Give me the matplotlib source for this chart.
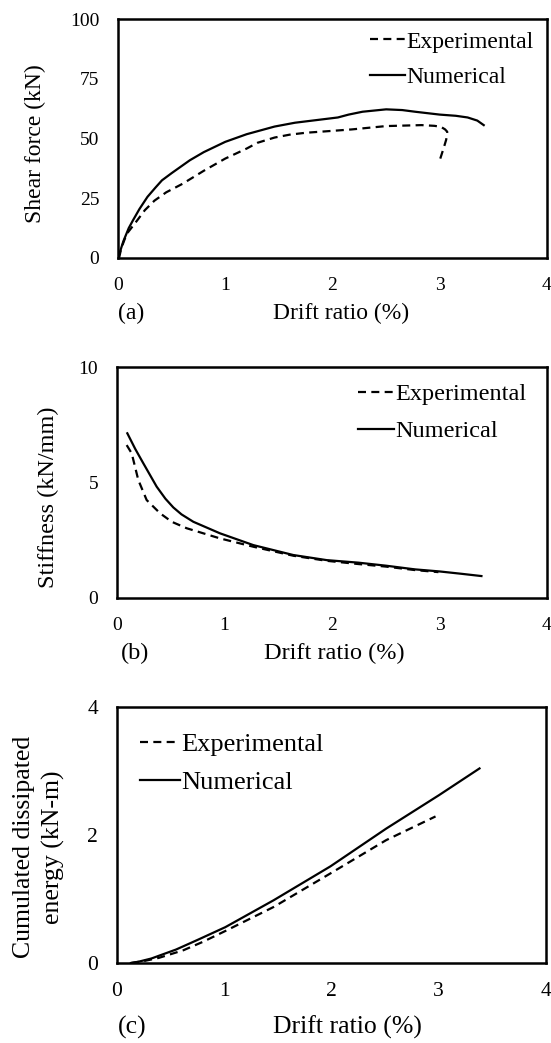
import matplotlib
matplotlib.use("Agg")
import matplotlib.pyplot as plt

plt.rcParams['font.family'] = ['Liberation Serif', 'DejaVu Serif']

# (a) Shear force vs drift ratio
a_num_x = [0.0, 0.05, 0.1, 0.14, 0.2, 0.275, 0.35, 0.41, 0.5, 0.67, 0.8, 1.0, 1.2, 1.46,
           1.65, 1.85, 2.05, 2.15, 2.28, 2.5, 2.65, 2.77, 3.0, 3.15, 3.26, 3.35, 3.41]
a_num_y = [0.0, 7.0, 12.5, 15.8, 20.5, 25.6, 29.5, 32.5, 35.5, 40.9, 44.3, 48.6, 51.8, 55.0,
           56.6, 57.7, 58.8, 60.0, 61.2, 62.2, 61.9, 61.2, 60.0, 59.5, 58.8, 57.5, 55.6]
a_exp_x = [0.01, 0.03, 0.08, 0.18, 0.25, 0.34, 0.45, 0.6, 0.8, 1.0, 1.2, 1.3, 1.46, 1.6, 1.75,
           2.0, 2.18, 2.5, 2.83, 2.95, 3.01, 3.05, 3.07, 3.06, 3.04, 3.0]
a_exp_y = [0.0, 4.0, 10.0, 15.8, 20.0, 24.0, 27.5, 31.0, 36.5, 41.6, 45.8, 48.2, 50.4, 51.6, 52.4,
           53.2, 53.8, 55.2, 55.6, 55.3, 54.9, 53.8, 52.8, 49.5, 46.5, 40.9]

# (b) Stiffness vs drift ratio
b_num_x = [0.096, 0.17, 0.245, 0.369, 0.45, 0.524, 0.6, 0.71, 0.958, 1.268, 1.64, 1.95, 2.245,
           2.5, 2.77, 3.0, 3.2, 3.39]
b_num_y = [7.13, 6.45, 5.83, 4.82, 4.30, 3.92, 3.62, 3.30, 2.80, 2.29, 1.86, 1.64, 1.53,
           1.40, 1.24, 1.15, 1.05, 0.95]
b_exp_x = [0.09, 0.137, 0.198, 0.276, 0.40, 0.509, 0.648, 0.958, 1.268, 1.64, 1.95, 2.245,
           2.5, 2.77, 2.99]
b_exp_y = [6.62, 6.26, 5.11, 4.24, 3.67, 3.30, 3.02, 2.58, 2.22, 1.83, 1.61, 1.47,
           1.36, 1.21, 1.12]

# (c) Cumulated dissipated energy vs drift ratio
c_num_x = [0.13, 0.2, 0.32, 0.55, 0.75, 1.01, 1.46, 1.99, 2.51, 3.0, 3.38]
c_num_y = [0.0, 0.02, 0.07, 0.21, 0.36, 0.56, 0.98, 1.51, 2.10, 2.62, 3.04]
c_exp_x = [0.13, 0.25, 0.39, 0.62, 0.8, 1.01, 1.46, 1.99, 2.51, 2.97]
c_exp_y = [0.0, 0.03, 0.08, 0.20, 0.33, 0.50, 0.875, 1.40, 1.92, 2.29]

x_ticks = [0, 1, 2, 3, 4]
a_yticks = [0, 25, 50, 75, 100]
b_yticks = [0, 5, 10]
c_yticks = [0, 2, 4]

W, H = 551, 1043
fig = plt.figure(figsize=(W / 100, H / 100), dpi=100)


def fx(px):
    return px / W


def fy(py):
    return 1 - py / H


panels = [
    dict(box=(118, 547, 19, 258), ex=a_exp_x, ey=a_exp_y, nx=a_num_x, ny=a_num_y,
         yt=a_yticks, ylab='Shear force (kN)', tag='(a)', tfs=14, lfs=17, legfs=17,
         leg=(370, 31), ls=0.6, ylc=(35, 144), xlc=(341, 313), tagpos=(118, 313)),
    dict(box=(117, 547, 367, 598), ex=b_exp_x, ey=b_exp_y, nx=b_num_x, ny=b_num_y,
         yt=b_yticks, ylab='Stiffness (kN/mm)', tag='(b)', tfs=14, lfs=17.5, legfs=17.5,
         leg=(358, 383), ls=0.63, ylc=(48, 497), xlc=(334, 653), tagpos=(121, 653)),
    dict(box=(117, 546, 707, 963), ex=c_exp_x, ey=c_exp_y, nx=c_num_x, ny=c_num_y,
         yt=c_yticks, ylab='Cumulated dissipated\nenergy (kN-m)', tag='(c)', tfs=15.5, lfs=18.5,
         legfs=19, leg=(140, 733), ls=0.53, ylc=(39, 847), xlc=(347, 1027), tagpos=(118, 1027)),
]

for p in panels:
    l, r, t, b = p['box']
    ax = fig.add_axes([fx(l), fy(b), (r - l) / W, (b - t) / H])
    ax.plot(p['ex'], p['ey'], color='black', lw=1.6, ls=(0, (3.6, 2.4)), label='Experimental')
    ax.plot(p['nx'], p['ny'], color='black', lw=1.6, ls='-', label='Numerical')
    ax.set_xlim(0, 4)
    ax.set_ylim(p['yt'][0], p['yt'][-1])
    ax.set_xticks(x_ticks)
    ax.set_yticks(p['yt'])
    ax.tick_params(length=0, labelsize=p['tfs'], pad=13.5)
    for s in ax.spines.values():
        s.set_linewidth(1.8)
    # axis labels
    ax.set_ylabel(p['ylab'], fontsize=p['lfs'], linespacing=1.4)
    ax.yaxis.label.set_va('center')
    ax.yaxis.label.set_ha('center')
    ax.yaxis.set_label_coords((p['ylc'][0] - l) / (r - l), (b - p['ylc'][1]) / (b - t))
    ax.set_xlabel('Drift ratio (%)', fontsize=p['lfs'])
    ax.xaxis.label.set_va('center')
    ax.xaxis.set_label_coords((p['xlc'][0] - l) / (r - l), (b - p['xlc'][1]) / (b - t))
    # legend
    lx, ly = p['leg']
    ax.legend(loc='upper left', bbox_to_anchor=((lx - l) / (r - l), (b - ly) / (b - t)),
              frameon=False, fontsize=p['legfs'], handlelength=1.5, handletextpad=0.05,
              labelspacing=p['ls'], borderpad=0, borderaxespad=0)
    tx, ty = p['tagpos']
    fig.text(fx(tx), fy(ty), p['tag'], fontsize=p['lfs'], ha='left', va='center')

fig.savefig('out.png', dpi=100)
